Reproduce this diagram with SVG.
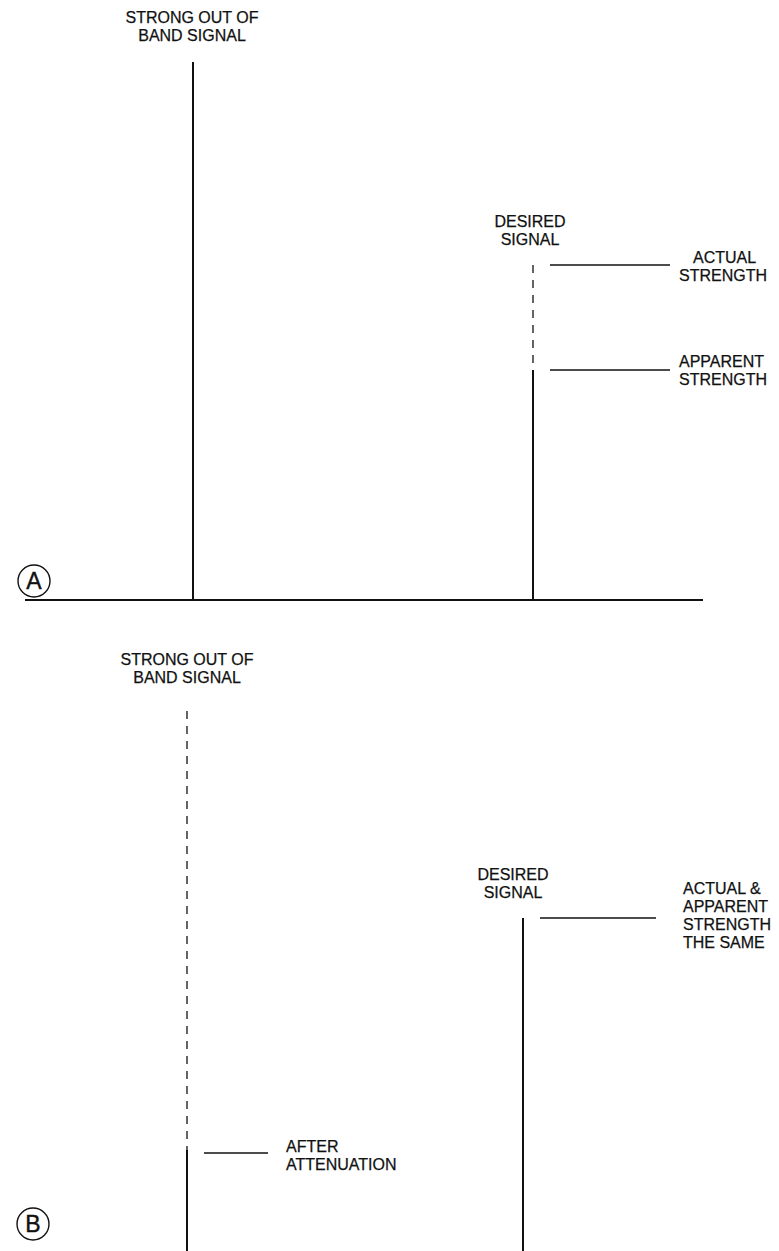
<svg xmlns="http://www.w3.org/2000/svg" width="779" height="1251" viewBox="0 0 779 1251">
<style>
text{font-family:"Liberation Sans",Arial,sans-serif;font-size:16px;fill:#111;stroke:#111;stroke-width:0.25}
.c{text-anchor:middle}
.big{font-size:23px;text-anchor:middle;stroke-width:0.4}
.sig{stroke:#111;stroke-width:2;fill:none}
.dash{stroke:#111;stroke-width:1.3;stroke-dasharray:8 7;fill:none}
.lead{stroke:#111;stroke-width:1.4;fill:none}
.circ{stroke:#111;stroke-width:1.4;fill:none}
</style>
<rect width="779" height="1251" fill="#fff"/>
<g id="panelA">
  <g id="A-label"><circle class="circ" cx="34" cy="581" r="16"/><text class="big" x="34" y="589">A</text></g>
  <g id="A-axis"><line class="sig" x1="25" y1="600" x2="703" y2="600"/></g>
  <g id="A-strong">
    <text class="c" x="192" y="23">STRONG OUT OF</text>
    <text class="c" x="192" y="41">BAND SIGNAL</text>
    <line class="sig" x1="193" y1="62" x2="193" y2="600"/>
  </g>
  <g id="A-desired">
    <text class="c" x="530" y="227">DESIRED</text>
    <text class="c" x="530" y="245">SIGNAL</text>
    <line class="dash" x1="533" y1="265" x2="533" y2="370"/>
    <line class="sig" x1="533" y1="370" x2="533" y2="600"/>
  </g>
  <g id="A-actual">
    <text x="693" y="263">ACTUAL</text>
    <text x="679" y="281">STRENGTH</text>
  </g>
  <g id="A-apparent">
    <text x="679" y="367">APPARENT</text>
    <text x="679" y="385">STRENGTH</text>
  </g>
</g>
<g id="panelB">
  <g id="B-label"><circle class="circ" cx="33" cy="1224" r="16"/><text class="big" x="33" y="1232">B</text></g>
  <g id="B-strong">
    <text class="c" x="187" y="665">STRONG OUT OF</text>
    <text class="c" x="187" y="683">BAND SIGNAL</text>
    <line class="dash" x1="187" y1="711" x2="187" y2="1150"/>
    <line class="sig" x1="187" y1="1150" x2="187" y2="1251"/>
  </g>
  <g id="B-after">
    <text x="286" y="1152">AFTER</text>
    <text x="286" y="1170">ATTENUATION</text>
  </g>
  <g id="B-desired">
    <text class="c" x="513" y="880">DESIRED</text>
    <text class="c" x="513" y="898">SIGNAL</text>
    <line class="sig" x1="523" y1="918" x2="523" y2="1251"/>
  </g>
  <g id="B-same">
    <text x="683" y="894">ACTUAL &amp;</text>
    <text x="683" y="912">APPARENT</text>
    <text x="683" y="930">STRENGTH</text>
    <text x="683" y="948">THE SAME</text>
  </g>
</g>
<g id="connectors">
  <line class="lead" x1="550" y1="265" x2="670" y2="265"/>
  <line class="lead" x1="550" y1="370" x2="670" y2="370"/>
  <line class="lead" x1="540" y1="918" x2="656" y2="918"/>
  <line class="lead" x1="204" y1="1153" x2="268" y2="1153"/>
</g>
</svg>
